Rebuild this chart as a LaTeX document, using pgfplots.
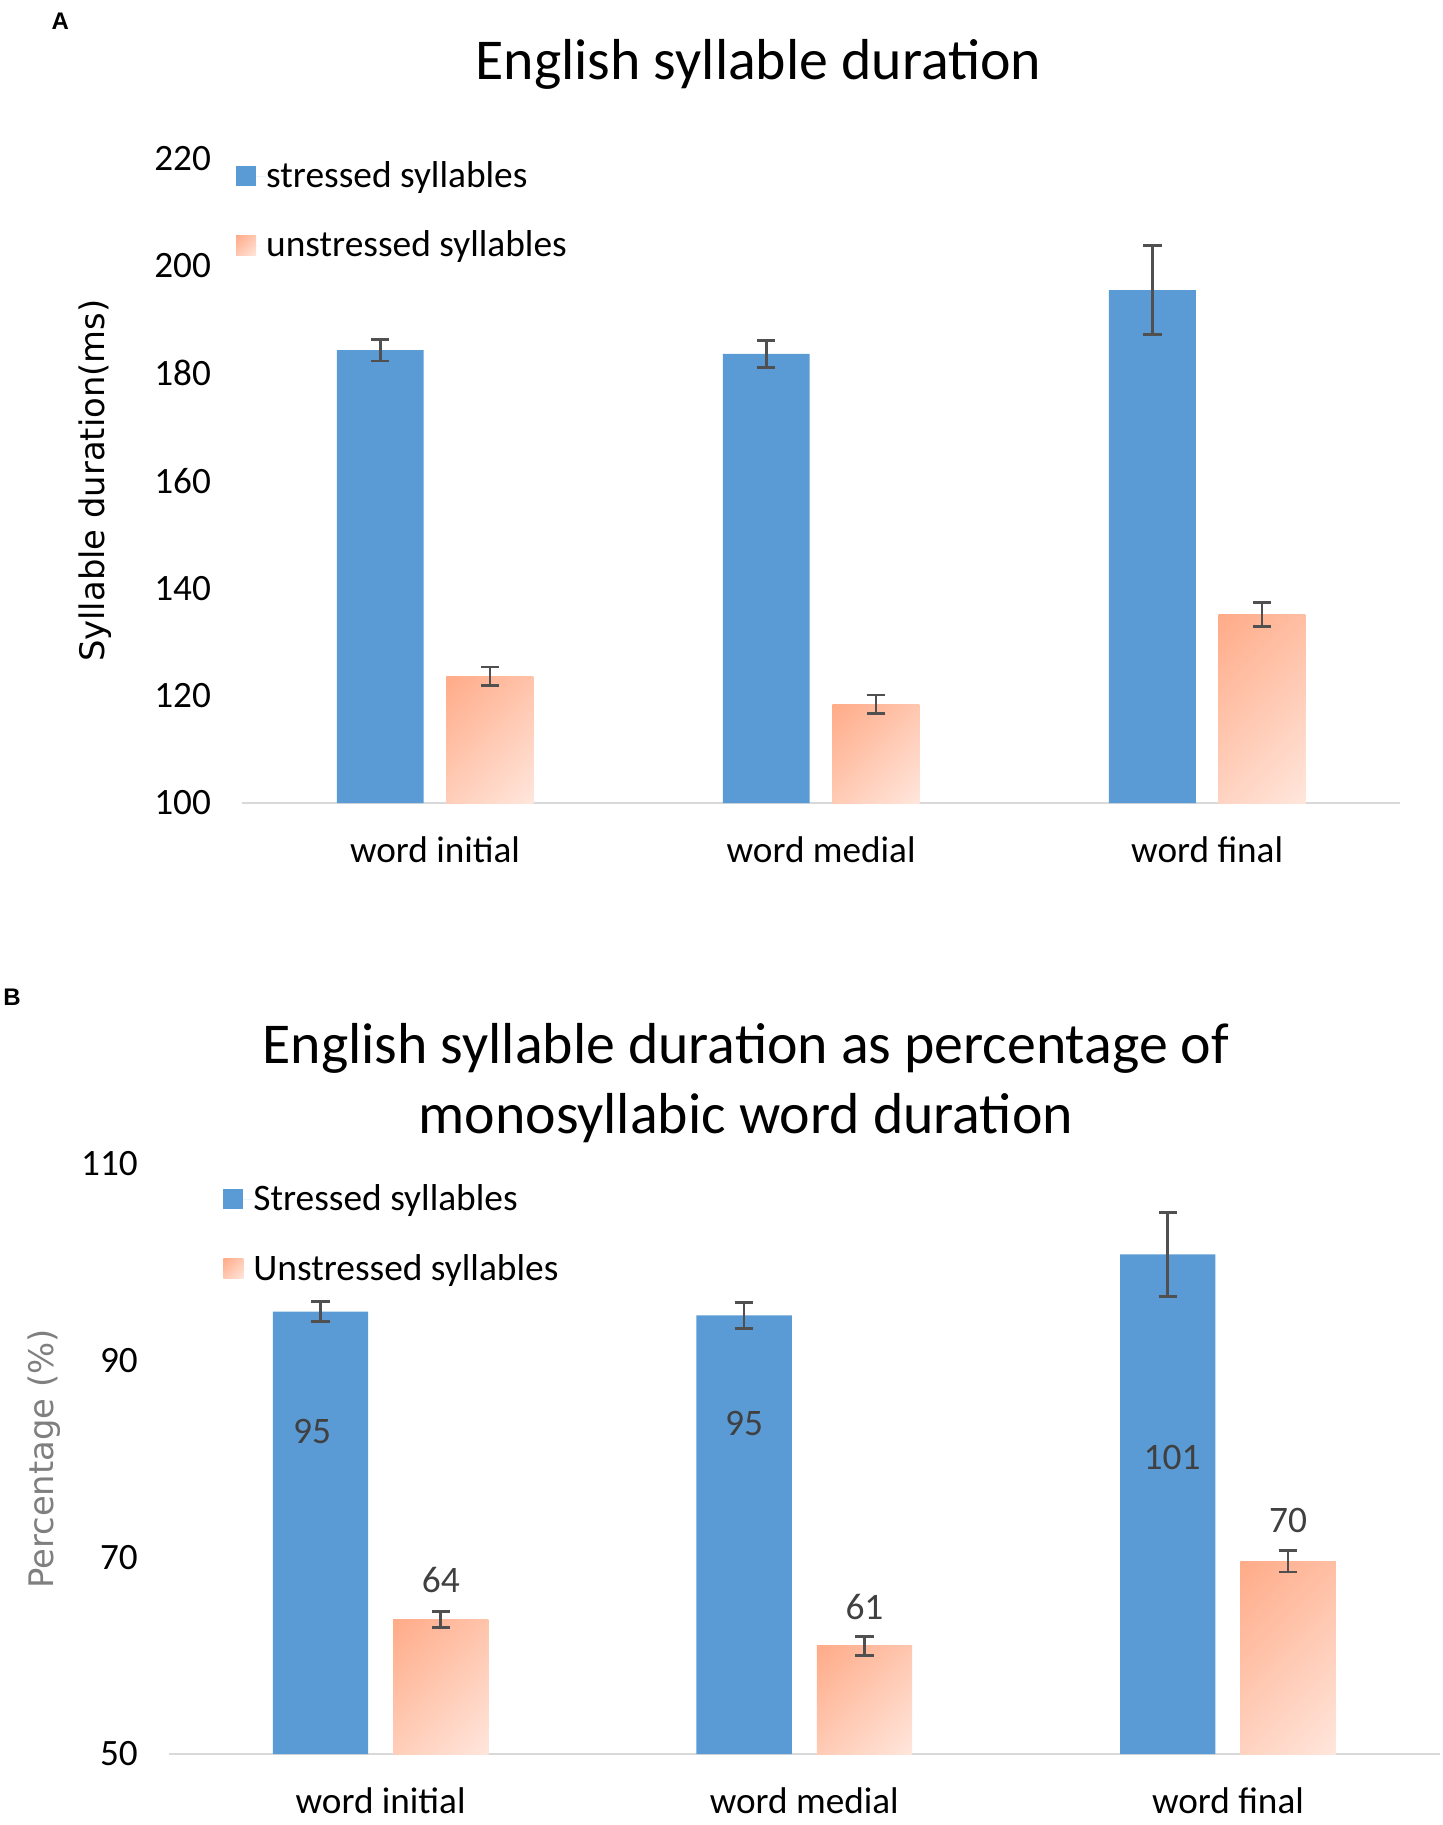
\documentclass[border=0pt]{standalone}
\usepackage{pgfplots}
\pgfplotsset{compat=1.18}
\usepackage{fontspec}
\setmainfont{Carlito}
\newfontfamily\labfont{DejaVu Sans}
\newfontfamily\panfont{Liberation Sans}
\definecolor{sblue}{HTML}{5B9BD5}
\definecolor{sdark}{HTML}{FFAB88}
\definecolor{slight}{HTML}{FFE6DC}
\definecolor{errc}{HTML}{505050}
\definecolor{axc}{HTML}{D9D9D9}
\definecolor{dlab}{HTML}{404040}
\definecolor{ylabB}{HTML}{7F7F7F}
\pgfdeclareverticalshading{barsh}{100bp}{color(0bp)=(slight); color(14.6bp)=(slight); color(85.4bp)=(sdark); color(100bp)=(sdark)}
\pgfplotsset{
  mybars/.style={
    scale only axis,
    xmin=-0.5, xmax=2.5,
    enlargelimits=false,
    axis x line=bottom, axis y line=left,
    x axis line style={draw=axc, line width=1.2pt, -},
    y axis line style={draw=none},
    major tick length=0pt,
    tick style={draw=none},
    xtick={0,1,2},
    xticklabels={word initial, word medial, word final},
    xticklabel style={font=\fontsize{18.6}{22}\selectfont, anchor=base, yshift=-29.5pt},
    yticklabel style={font=\fontsize{18.6}{22}\selectfont, anchor=east, xshift=-12pt},
    /pgf/number format/assume math mode=true,
    clip=false,
    legend cell align=left,
    legend style={draw=none, fill=none, inner sep=0pt, outer sep=0pt,
      font=\fontsize{18.7}{22}\selectfont, row sep=20.2pt,
      nodes={inner sep=0pt, outer sep=0pt, anchor=west}},
    legend image code/.code={\path[##1, draw=none] (0pt,-5pt) rectangle (10pt,5pt); \path (0pt,0pt) -- (15pt,0pt);},
  },
  errs/.style={
    error bars/y dir=both, error bars/y explicit,
    error bars/error bar style={draw=errc, line width=1.35pt},
    error bars/error mark options={draw=errc, line width=1.35pt, rotate=90, mark size=4.6pt}},
  sbar/.style={ybar, bar width=0.225, bar shift=0, fill=sblue, draw=none, errs},
  ubar/.style={ybar, bar width=0.225, bar shift=0, draw=none,
    shade, shading=barsh, shading angle=45, errs},
}
\begin{document}
\begin{tikzpicture}
\node[font=\panfont\bfseries\fontsize{12}{14}\selectfont, anchor=center] at (30.2pt,-10.6pt) {A};
\node[font=\panfont\bfseries\fontsize{12}{14}\selectfont, anchor=center, inner sep=0pt] at (6pt,-498.5pt) {B};
% Panel A
\begin{axis}[mybars,
  at={(121.0pt,-401.5pt)}, anchor=south west,
  width=579.1pt, height=322.3pt,
  ymin=100, ymax=220, ytick={100,120,...,220},
  title={English syllable duration},
  title style={font=\fontsize{28.9}{34}\selectfont, at={(axis description cs:0.446,1)}, anchor=center, yshift=40.9pt},
  ylabel={Syllable duration(ms)},
  ylabel style={font=\labfont\fontsize{16.9}{20}\selectfont, at={(axis description cs:-0.1265,0.5)}, anchor=center},
  legend style={at={(axis description cs:-0.005,0.995)}, anchor=north west},
]
\addplot[sbar] table[x=x, y=y, y error=e] {
x y e
-0.142 184.3 2.0
0.858 183.6 2.5
1.858 195.5 8.3
};
\addlegendentry{stressed syllables}
\addplot[ubar] table[x=x, y=y, y error=e] {
x y e
0.142 123.6 1.7
};
\addlegendentry{unstressed syllables}
\addplot[ubar, forget plot] table[x=x, y=y, y error=e] {
x y e
1.142 118.4 1.7
};
\addplot[ubar, forget plot] table[x=x, y=y, y error=e] {
x y e
2.142 135.1 2.2
};
\end{axis}
% Panel B
\begin{axis}[mybars,
  at={(84.4pt,-877pt)}, anchor=south west,
  width=635.5pt, height=295pt,
  ymin=50, ymax=110, ytick={50,70,90,110},
  title={English syllable duration as percentage of\\monosyllabic word duration},
  title style={font=\fontsize{28.9}{35.2}\selectfont, align=center, at={(axis description cs:0.454,1)}, anchor=center, yshift=34.6pt},
  ylabel={Percentage (\%)},
  ylabel style={font=\labfont\fontsize{16.9}{20}\selectfont, text=ylabB, at={(axis description cs:-0.098,0.5)}, anchor=center},
  legend style={at={(axis description cs:0.043,0.965)}, anchor=north west},
]
\addplot[sbar] table[x=x, y=y, y error=e] {
x y e
-0.142 95.0 1.0
0.858 94.6 1.3
1.858 100.8 4.3
};
\addlegendentry{Stressed syllables}
\addplot[ubar] table[x=x, y=y, y error=e] {
x y e
0.142 63.7 0.8
};
\addlegendentry{Unstressed syllables}
\addplot[ubar, forget plot] table[x=x, y=y, y error=e] {
x y e
1.142 61.0 0.95
};
\addplot[ubar, forget plot] table[x=x, y=y, y error=e] {
x y e
2.142 69.6 1.1
};
\addplot[draw=none, mark=none, forget plot, nodes near coords, point meta=explicit symbolic,
  nodes near coords style={anchor=center, font=\fontsize{18.7}{22}\selectfont, text=dlab}]
  coordinates {(-0.162,82.8) [95] (0.858,83.6) [95] (1.868,80.2) [101]
               (0.142,67.7) [64] (1.142,65.0) [61] (2.142,73.7) [70]};
\end{axis}
\pgfresetboundingbox
\path[use as bounding box] (0,0) rectangle (721pt,-912.5pt);
\end{tikzpicture}
\end{document}
